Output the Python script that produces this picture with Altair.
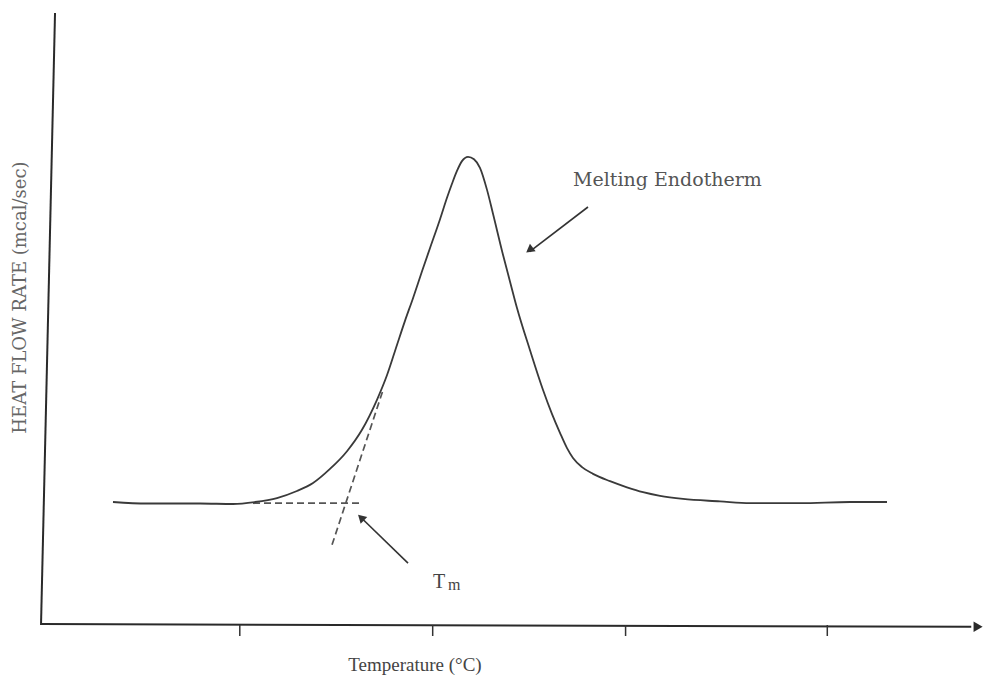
import altair as alt
import pandas as pd

# ---- DSC melting endotherm curve (temperature in °C, heat flow in arbitrary mcal/sec units)
temp = [27.25, 30.72, 36.14, 39.51, 41.76, 44.00, 46.04, 47.68, 49.41, 51.15, 52.68,
        54.21, 55.23, 56.26, 57.07, 57.89, 58.81, 59.63, 60.65, 61.36, 61.87, 62.38,
        62.89, 63.51, 64.12, 64.73, 65.45, 66.06, 67.08, 67.80, 68.51, 69.84, 71.17,
        72.08, 72.90, 73.62, 74.23, 75.15, 76.27, 78.01, 79.74, 81.38, 83.12, 85.46,
        89.24, 92.31, 97.41, 102.52, 106.30]
heat = [2.01, 1.985, 1.985, 1.977, 2.01, 2.075, 2.19, 2.32, 2.55, 2.84, 3.19,
        3.68, 4.08, 4.58, 4.97, 5.34, 5.78, 6.16, 6.63, 6.98, 7.21, 7.42,
        7.58, 7.65, 7.61, 7.47, 7.11, 6.72, 6.05, 5.61, 5.18, 4.49, 3.84,
        3.45, 3.14, 2.89, 2.73, 2.58, 2.47, 2.35, 2.25, 2.17, 2.11, 2.06,
        2.02, 1.99, 1.99, 2.01, 2.01]

# ---- axis (hand-drawn frame) values
tick_T = [40.2, 59.9, 79.6, 100.2]
tick_H0, tick_H1 = 0.0, -0.18
yaxis_T = [19.9, 21.33]
yaxis_H = [0.0, 10.0]
xaxis_T = [19.9, 114.9]
xaxis_H = [0.015, -0.03]
xarrow_T, xarrow_H = 115.6, -0.03

# ---- onset construction (dashed baseline and tangent)
base_T = [41.55, 52.78]
base_H = [1.99, 1.99]
tan_T = [49.62, 54.83]
tan_H = [1.31, 3.84]

# ---- annotation arrows: tail -> head
arrow_T1 = [75.76, 57.38]
arrow_H1 = [6.83, 1.01]
arrow_T2 = [69.80, 52.55]
arrow_H2 = [6.10, 1.76]
head_T = [69.90, 52.68]
head_H = [6.14, 1.74]
head_angle = [233, 314]

XS = alt.Scale(domain=[20, 116], nice=False, zero=False)
YS = alt.Scale(domain=[0, 10], nice=False, zero=False)


def X(f):
    return alt.X(f, type="quantitative", scale=XS, axis=None)


def Y(f):
    return alt.Y(f, type="quantitative", scale=YS, axis=None)


INK = "#3a3a3a"

curve = alt.Chart(pd.DataFrame({"T": temp, "H": heat})).mark_line(
    color=INK, strokeWidth=1.8, interpolate="monotone"
).encode(x=X("T"), y=Y("H"), order="T:Q")

yaxis = alt.Chart(pd.DataFrame({"t1": [yaxis_T[0]], "t2": [yaxis_T[1]],
                                "h1": [yaxis_H[0]], "h2": [yaxis_H[1]]})).mark_rule(
    color="#2a2a2a", strokeWidth=2
).encode(x=X("t1"), x2="t2", y=Y("h1"), y2="h2")

xaxis = alt.Chart(pd.DataFrame({"t1": [xaxis_T[0]], "t2": [xaxis_T[1]],
                                "h1": [xaxis_H[0]], "h2": [xaxis_H[1]]})).mark_rule(
    color="#2a2a2a", strokeWidth=2
).encode(x=X("t1"), x2="t2", y=Y("h1"), y2="h2")

xarrow = alt.Chart(pd.DataFrame({"t": [xarrow_T], "h": [xarrow_H]})).mark_point(
    shape="triangle-right", filled=True, color="#2a2a2a", size=110, opacity=1
).encode(x=X("t"), y=Y("h"))

ticks = alt.Chart(pd.DataFrame({"t": tick_T, "h1": [tick_H0] * 4, "h2": [tick_H1] * 4})).mark_rule(
    color="#333", strokeWidth=1.5
).encode(x=X("t"), y=Y("h1"), y2="h2")

dash_df = pd.DataFrame({"t1": [base_T[0], tan_T[0]], "t2": [base_T[1], tan_T[1]],
                        "h1": [base_H[0], tan_H[0]], "h2": [base_H[1], tan_H[1]]})
dashes = alt.Chart(dash_df).mark_rule(
    color="#555", strokeWidth=1.7, strokeDash=[7, 4]
).encode(x=X("t1"), x2="t2", y=Y("h1"), y2="h2")

arrow_df = pd.DataFrame({"t1": arrow_T1, "t2": arrow_T2, "h1": arrow_H1, "h2": arrow_H2})
arrows = alt.Chart(arrow_df).mark_rule(color="#333", strokeWidth=1.6).encode(
    x=X("t1"), x2="t2", y=Y("h1"), y2="h2")

heads = alt.Chart(pd.DataFrame({"t": head_T, "h": head_H, "a": head_angle})).mark_point(
    shape="triangle", filled=True, color="#333", size=90, opacity=1, strokeWidth=0
).encode(
    x=X("t"), y=Y("h"),
    angle=alt.Angle("a:Q", scale=None),
)

# ---- texts
melt = alt.Chart(pd.DataFrame({"t": [74.23], "h": [7.27], "s": ["Melting Endotherm"]})).mark_text(
    align="left", baseline="middle", font="DejaVu Serif", fontSize=19, color="#555"
).encode(x=X("t"), y=Y("h"), text="s:N")

tm_T = alt.Chart(pd.DataFrame({"t": [59.93], "h": [0.605], "s": ["T"]})).mark_text(
    align="left", baseline="alphabetic", font="Liberation Serif", fontSize=20, color="#444"
).encode(x=X("t"), y=Y("h"), text="s:N")

tm_m = alt.Chart(pd.DataFrame({"t": [61.46], "h": [0.57], "s": ["m"]})).mark_text(
    align="left", baseline="alphabetic", font="Liberation Serif", fontSize=16, color="#444"
).encode(x=X("t"), y=Y("h"), text="s:N")

xlabel = alt.Chart(pd.DataFrame({"t": [58.09], "h": [-0.65], "s": ["Temperature (°C)"]})).mark_text(
    align="center", baseline="middle", font="Liberation Serif", fontSize=19, color="#444"
).encode(x=X("t"), y=Y("h"), text="s:N")

ylabel = alt.Chart(pd.DataFrame({"t": [17.9], "h": [5.35], "s": ["HEAT FLOW RATE (mcal/sec)"]})).mark_text(
    align="center", baseline="middle", font="DejaVu Serif", fontSize=18, color="#666", angle=270
).encode(x=X("t"), y=Y("h"), text="s:N")

chart = alt.layer(
    dashes, curve, yaxis, xaxis, xarrow, ticks, arrows, heads,
    melt, tm_T, tm_m, xlabel, ylabel
).properties(
    width=940, height=612,
    padding={"left": 42, "top": 13, "right": 2, "bottom": 53},
    autosize=alt.AutoSizeParams(type="none"),
    background="white",
).configure_view(stroke=None)

chart.save("out.html", embed_options={"renderer": "svg", "actions": False})
